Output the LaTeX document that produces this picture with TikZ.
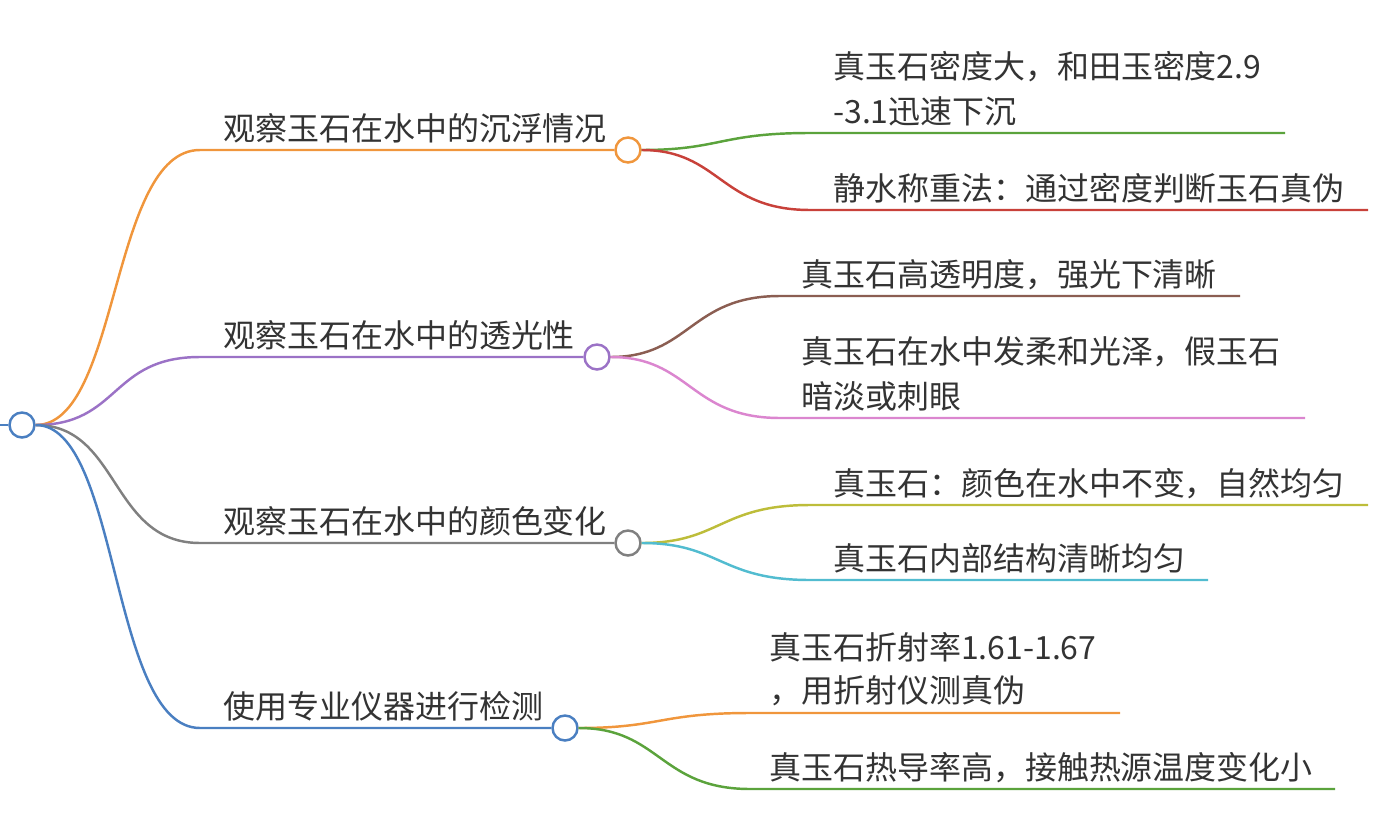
\documentclass[tikz,border=0pt]{standalone}
\usepackage{fontspec}
\setmainfont{Noto Sans CJK SC}
\usetikzlibrary{positioning}
\definecolor{txt}{HTML}{333333}
\definecolor{corange}{HTML}{F0963C}
\definecolor{cpurple}{HTML}{9B72C6}
\definecolor{cgray}{HTML}{808080}
\definecolor{cblue}{HTML}{4A7FC1}
\definecolor{cgreen}{HTML}{5BA33C}
\definecolor{cred}{HTML}{C8413A}
\definecolor{cbrown}{HTML}{8B5E52}
\definecolor{cpink}{HTML}{DB86CF}
\definecolor{colive}{HTML}{BDBD3A}
\definecolor{ccyan}{HTML}{52BCD0}
\begin{document}
\begin{tikzpicture}
[x=0.02cm, y=-0.02cm, line width=1.4pt,
label/.style={anchor=base west, inner sep=0pt, text=txt, font=\fontsize{18.2}{22}\selectfont},
dot/.style={circle, draw, fill=white, line width=1.4pt, minimum size=0.5cm, inner sep=0pt}
]
\useasboundingbox (0,0) rectangle (1375,821);

\coordinate (edge) at (0,425);
\node[dot, draw=cblue] (root) at (22,425) {};
\draw[cblue] (edge) -- (root);

% main branches
\node[dot, draw=corange] (b1) at (628,150) {};
\node[dot, draw=cpurple] (b2) at (597,357) {};
\node[dot, draw=cgray] (b3) at (628,543) {};
\node[dot, draw=cblue] (b4) at (565,728) {};

\draw[corange] (root) .. controls (120,425) and (110,150) .. (200,150) -- (b1);
\draw[cpurple] (root) .. controls (120,425) and (110,357) .. (200,357) -- (b2);
\draw[cgray] (root) .. controls (120,425) and (110,543) .. (200,543) -- (b3);
\draw[cblue] (root) .. controls (120,425) and (110,728) .. (200,728) -- (b4);

\node[label] (t1) at (222,140) {观察玉石在水中的沉浮情况};
\node[label] (t2) at (222,347) {观察玉石在水中的透光性};
\node[label] (t3) at (222,533) {观察玉石在水中的颜色变化};
\node[label] (t4) at (222,718) {使用专业仪器进行检测};

% leaves of branch 1
\coordinate (e11) at (1285,133);
\coordinate (e12) at (1368,210);
\draw[cgreen] (b1) .. controls (720,150) and (720,133) .. (810,133) -- (e11);
\draw[cred] (b1) .. controls (720,150) and (720,210) .. (810,210) -- (e12);
\node[label] (l11a) at (832,79) {真玉石密度大，和田玉密度2.9};
\node[label] (l11b) at (832,123) {-3.1迅速下沉};
\node[label] (l12) at (832,200) {静水称重法：通过密度判断玉石真伪};

% leaves of branch 2
\coordinate (e21) at (1240,296);
\coordinate (e22) at (1305,418);
\draw[cbrown] (b2) .. controls (690,357) and (690,296) .. (780,296) -- (e21);
\draw[cpink] (b2) .. controls (690,357) and (690,418) .. (780,418) -- (e22);
\node[label] (l21) at (800,286) {真玉石高透明度，强光下清晰};
\node[label] (l22a) at (800,363) {真玉石在水中发柔和光泽，假玉石};
\node[label] (l22b) at (800,408) {暗淡或刺眼};

% leaves of branch 3
\coordinate (e31) at (1368,505);
\coordinate (e32) at (1208,580);
\draw[colive] (b3) .. controls (720,543) and (720,505) .. (810,505) -- (e31);
\draw[ccyan] (b3) .. controls (720,543) and (720,580) .. (810,580) -- (e32);
\node[label] (l31) at (832,495) {真玉石：颜色在水中不变，自然均匀};
\node[label] (l32) at (832,570) {真玉石内部结构清晰均匀};

% leaves of branch 4
\coordinate (e41) at (1120,713);
\coordinate (e42) at (1335,789);
\draw[corange] (b4) .. controls (660,728) and (660,713) .. (750,713) -- (e41);
\draw[cgreen] (b4) .. controls (660,728) and (660,789) .. (750,789) -- (e42);
\node[label] (l41a) at (768,659) {真玉石折射率1.61-1.67};
\node[label] (l41b) at (768,702) {，用折射仪测真伪};
\node[label] (l42) at (768,779) {真玉石热导率高，接触热源温度变化小};
\end{tikzpicture}
\end{document}
